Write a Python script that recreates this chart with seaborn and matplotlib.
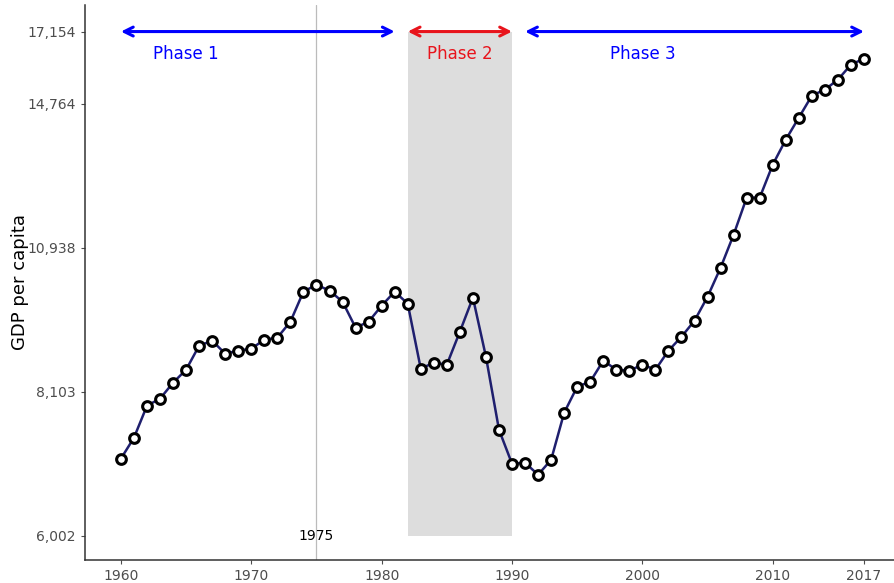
import numpy as np
import pandas as pd
import matplotlib
matplotlib.use("Agg")
import matplotlib.pyplot as plt
import seaborn as sns

# Dados
years = list(range(1960, 2018))
gdp = [7047, 7361, 7869, 7985, 8255, 8482, 8917, 9010, 8770, 8825,
       8861, 9029, 9067, 9374, 9979, 10125, 10000, 9773, 9258, 9374,
       9692, 9979, 9732, 8500, 8606, 8571, 9181, 9855, 8714, 7485,
       6973, 6988, 6815, 7031, 7755, 8187, 8273, 8643, 8482, 8465,
       8571, 8482, 8825, 9085, 9394, 9875, 10490, 11237, 12138, 12138,
       13001, 13696, 14338, 15011, 15200, 15520, 16013, 16214]
y_ticks = [6002, 8103, 10938, 14764, 17154]
x_ticks = [1960, 1970, 1980, 1990, 2000, 2010, 2017]
phases = [("Phase 1", 1960, 1981, "#0000ff"),
          ("Phase 2", 1982, 1990, "#e8141c"),
          ("Phase 3", 1991, 2017, "#0000ff")]
phase_label_x = [1965, 1986, 2000]
shade = (1982, 1990)
marker_year = 1975

df = pd.DataFrame({"year": years, "gdp": gdp})

sns.set_style("white")
fig = plt.figure(figsize=(8.94, 5.83), dpi=100)
ax = fig.add_axes([0.095, 0.04, 0.905, 0.952])

ylo, yhi = np.exp(8.65), np.exp(9.806)

# Fase 2 sombreada
ax.fill_between(list(shade), y_ticks[0], y_ticks[-1], color="#dddddd", lw=0, zorder=0)
ax.axvline(marker_year, color="#bbbbbb", lw=0.9, zorder=1)
ax.text(marker_year, y_ticks[0], str(marker_year), ha="center", va="center",
        fontsize=10, color="black")

sns.lineplot(data=df, x="year", y="gdp", ax=ax, color="#1f1f6e", lw=1.8,
             marker="o", markersize=7, markerfacecolor="white",
             markeredgecolor="black", markeredgewidth=2.2, zorder=3)

# Setas das fases
for (lab, x0, x1, col), lx in zip(phases, phase_label_x):
    ax.annotate("", xy=(x0, y_ticks[-1]), xytext=(x1, y_ticks[-1]),
                arrowprops=dict(arrowstyle="<->", color=col, lw=2.2,
                                mutation_scale=16, shrinkA=0, shrinkB=0),
                zorder=4)
    ax.text(lx, 16370, lab, color=col, fontsize=12, ha="center", va="center")

ax.set_yscale("log")
ax.set_ylim(ylo, yhi)
ax.set_xlim(1957.24, 2019.3)
ax.set_yticks(y_ticks)
ax.set_yticklabels([f"{v:,}" for v in y_ticks])
ax.yaxis.set_minor_locator(matplotlib.ticker.NullLocator())
ax.set_xticks(x_ticks)
ax.tick_params(axis="both", colors="#4d4d4d", labelsize=10, length=3,
               direction="out", left=True, bottom=True, width=0.8)
ax.set_xlabel("")
ax.set_ylabel("GDP per capita", fontsize=13, color="black", labelpad=-1)
sns.despine(ax=ax)
for s in ["left", "bottom"]:
    ax.spines[s].set_color("#333333")
    ax.spines[s].set_linewidth(1.1)

fig.savefig("out.png", dpi=100)
plt.close()
